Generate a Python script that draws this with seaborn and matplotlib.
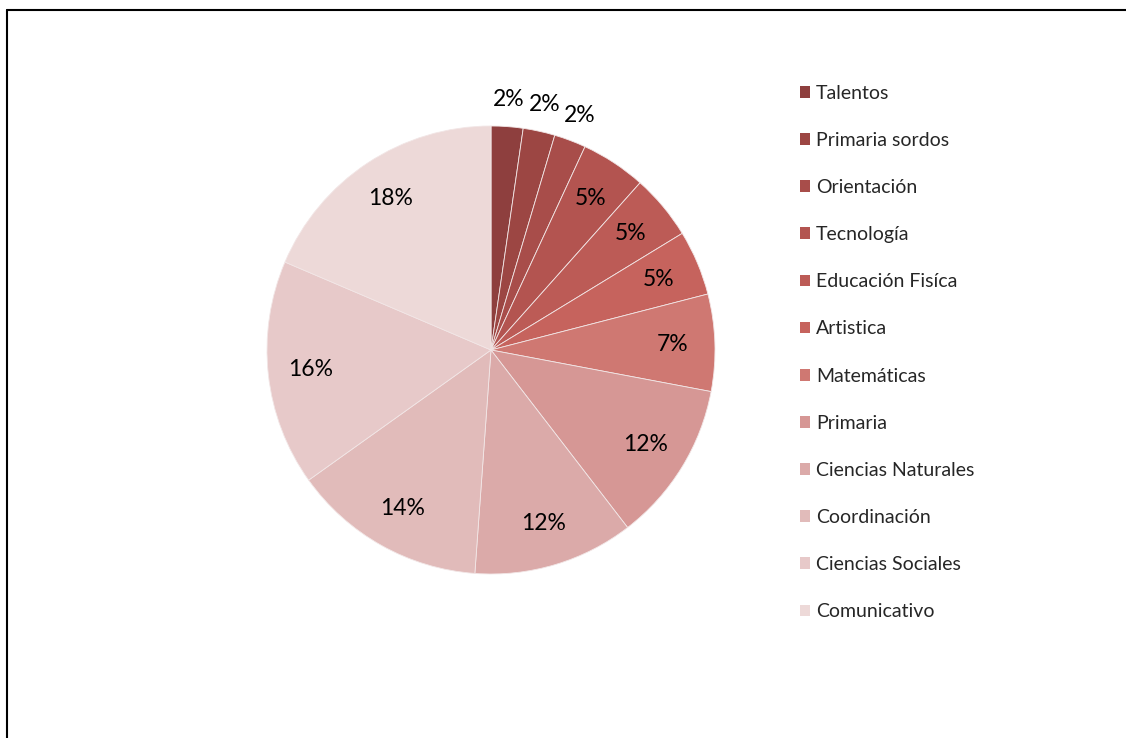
import matplotlib
matplotlib.use("Agg")
import matplotlib.pyplot as plt
import matplotlib.patches as mpatches
from matplotlib.lines import Line2D
import seaborn as sns
import numpy as np

categories = ["Talentos", "Primaria sordos", "Orientación", "Tecnología",
              "Educación Fisíca", "Artistica", "Matemáticas", "Primaria",
              "Ciencias Naturales", "Coordinación", "Ciencias Sociales", "Comunicativo"]
values = [2.3, 2.3, 2.3, 4.7, 4.7, 4.7, 7.0, 11.6, 11.6, 14.0, 16.3, 18.6]
pct_labels = ["2%", "2%", "2%", "5%", "5%", "5%", "7%", "12%", "12%", "14%", "16%", "18%"]

colors = ["#8E3F3E", "#9C4643", "#A84D4A", "#B35450", "#BC5B56", "#C6635D",
          "#CF7872", "#D69795", "#DBAAA9", "#E1BBBA", "#E7C9C9", "#EDD9D8"]

sns.set_theme(style="white")
plt.rcParams["font.family"] = ["Lato", "DejaVu Sans"]

W, H = 1126, 738
fig = plt.figure(figsize=(W / 100, H / 100), dpi=100)

# border: top and left edges only
ytop = 1 - 10 / H
xl = 7 / W
fig.add_artist(Line2D([xl, 1], [ytop, ytop], transform=fig.transFigure, color="black", linewidth=1.5))
fig.add_artist(Line2D([xl, xl], [0, ytop], transform=fig.transFigure, color="black", linewidth=1.5))

cx, cy, R = 491, 350, 224
ax = fig.add_axes([(cx - R) / W, (H - cy - R) / H, 2 * R / W, 2 * R / H])
wedges, _ = ax.pie(values, colors=colors, startangle=90, counterclock=False,
                   radius=1.0, wedgeprops=dict(edgecolor="#F2E6E6", linewidth=0.6))
ax.set_xlim(-1, 1)
ax.set_ylim(-1, 1)
ax.set_aspect("equal")
ax.axis("off")

for w, lab, v in zip(wedges, pct_labels, values):
    ang = np.deg2rad((w.theta1 + w.theta2) / 2)
    r = 1.12 if v < 3 else 0.81
    ax.text(r * np.cos(ang), r * np.sin(ang), lab, ha="center", va="center",
            fontsize=16.5, color="black")

handles = [mpatches.Patch(facecolor=c, edgecolor="none") for c in colors]
fig.legend(handles, categories, loc="upper left",
           bbox_to_anchor=(790 / W, 1 - 75 / H), frameon=False,
           fontsize=14, handlelength=0.55, handleheight=0.55,
           handletextpad=0.3, labelspacing=1.55, borderpad=0)

fig.savefig("out.png", dpi=100)
